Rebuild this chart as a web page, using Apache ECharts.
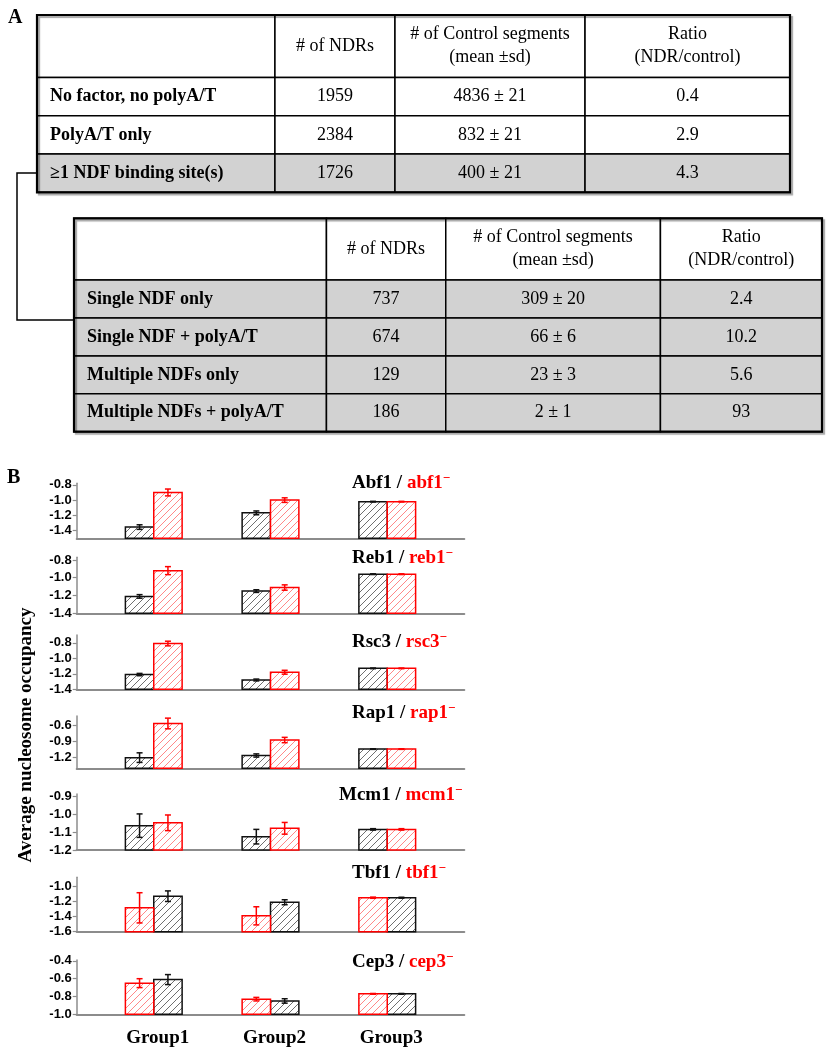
<!DOCTYPE html>
<html><head><meta charset="utf-8">
<script src="https://cdn.jsdelivr.net/npm/echarts@6/dist/echarts.min.js"></script>
<style>html,body{margin:0;padding:0;background:#fff}#c{width:830px;height:1050px}</style>
</head><body><div id="c"></div>
<script>
// ---------- Panel A data ----------
const headerLabels = ['', '# of NDRs', '# of Control segments\n(mean \u00B1sd)', 'Ratio\n(NDR/control)'];
const t1Labels = ['No factor, no polyA/T', 'PolyA/T only', '\u22651 NDF binding site(s)'];
const t1NDRs = [1959, 2384, 1726];
const t1CtrlMean = [4836, 832, 400];
const t1CtrlSd = [21, 21, 21];
const t1Ratio = ['0.4', '2.9', '4.3'];
const t1Shaded = [false, false, true];

const t2Labels = ['Single NDF only', 'Single NDF + polyA/T', 'Multiple NDFs only', 'Multiple NDFs + polyA/T'];
const t2NDRs = [737, 674, 129, 186];
const t2CtrlMean = [309, 66, 23, 2];
const t2CtrlSd = [20, 6, 3, 1];
const t2Ratio = ['2.4', '10.2', '5.6', '93'];
const t2Shaded = [true, true, true, true];

// ---------- Panel B data ----------
const groups = ['Group1', 'Group2', 'Group3'];
const factors = ['Abf1', 'Reb1', 'Rsc3', 'Rap1', 'Mcm1', 'Tbf1', 'Cep3'];
const mutants = ['abf1', 'reb1', 'rsc3', 'rap1', 'mcm1', 'tbf1', 'cep3'];
const wtMean = [
  [-1.353, -1.167, -1.02],
  [-1.21, -1.15, -0.96],
  [-1.21, -1.28, -1.13],
  [-1.20, -1.16, -1.04],
  [-1.063, -1.125, -1.084],
  [-1.13, -1.21, -1.15],
  [-0.61, -0.85, -0.77]
];
const wtErr = [
  [0.03, 0.025, 0.004],
  [0.02, 0.015, 0.004],
  [0.015, 0.012, 0.004],
  [0.09, 0.03, 0.005],
  [0.066, 0.041, 0.004],
  [0.07, 0.033, 0.006],
  [0.056, 0.025, 0.004]
];
const mutMean = [
  [-0.90, -1.00, -1.02],
  [-0.92, -1.11, -0.96],
  [-0.81, -1.18, -1.13],
  [-0.56, -0.87, -1.04],
  [-1.047, -1.078, -1.084],
  [-1.284, -1.39, -1.15],
  [-0.65, -0.83, -0.77]
];
const mutErr = [
  [0.045, 0.03, 0.004],
  [0.045, 0.03, 0.004],
  [0.03, 0.025, 0.004],
  [0.1, 0.05, 0.005],
  [0.044, 0.033, 0.004],
  [0.2, 0.12, 0.008],
  [0.05, 0.02, 0.004]
];
const mutantFirst = [false, false, false, false, false, true, true];
const yTickLabels = [
  [-1.4, -1.2, -1.0, -0.8],
  [-1.4, -1.2, -1.0, -0.8],
  [-1.4, -1.2, -1.0, -0.8],
  [-1.2, -0.9, -0.6],
  [-1.2, -1.1, -1.0, -0.9],
  [-1.6, -1.4, -1.2, -1.0],
  [-1.0, -0.8, -0.6, -0.4]
];

// ---------- layout (not data) ----------
const yRange = [[-1.5, -0.78], [-1.4, -0.77], [-1.4, -0.70], [-1.4, -0.42], [-1.2, -0.885], [-1.6, -0.88], [-1.0, -0.39]];
const panelTop = [483.3, 557.3, 635, 716, 794, 877.3, 960];
const panelBase = [538.3, 613.3, 689.3, 768.3, 850, 931.7, 1014.3];
const titleMid = [483.3, 558.3, 641.7, 713.3, 795, 873.3, 961.7];
const titleLeft = [352, 352, 352, 352, 339, 352, 352];
const PLOT_LEFT = 76.7, PLOT_RIGHT = 830 - 464.3;
const X_MIN = 0.34, X_MAX = 3.66, BAR_W = 0.243;
const RED = '#ff0000', BLACK = '#111111';
const SERIF = '"Liberation Serif", "Times New Roman", serif';
const SANS = '"Liberation Sans", Arial, sans-serif';

function hatch(color) {
  const s = 7, c = document.createElement('canvas');
  c.width = s; c.height = s;
  const g = c.getContext('2d');
  g.fillStyle = '#fff'; g.fillRect(0, 0, s, s);
  g.strokeStyle = color; g.lineWidth = 0.8;
  g.beginPath();
  g.moveTo(-1, s + 1); g.lineTo(s + 1, -1);
  g.moveTo(-1, 1); g.lineTo(1, -1);
  g.moveTo(s - 1, s + 1); g.lineTo(s + 1, s - 1);
  g.stroke();
  return c;
}
const patBlack = { image: hatch('#4a4a4a'), repeat: 'repeat' };
const patRed = { image: hatch('#ff6a6a'), repeat: 'repeat' };

const chart = echarts.init(document.getElementById('c'), null, { renderer: 'canvas' });

const grids = [], xAxes = [], yAxes = [], series = [], titles = [];

// ---------- Tables (panel A) ----------
const tables = [
  { left: 37, right: 830 - 790, top: 15, bottom: 1050 - 192.3,
    colEdges: [0, 0.316, 0.4754, 0.7278, 1], labels: t1Labels, ndr: t1NDRs, cm: t1CtrlMean, csd: t1CtrlSd, ratio: t1Ratio, shaded: t1Shaded },
  { left: 74, right: 830 - 822, top: 218.3, bottom: 1050 - 431.7,
    colEdges: [0, 0.3375, 0.497, 0.784, 1], labels: t2Labels, ndr: t2NDRs, cm: t2CtrlMean, csd: t2CtrlSd, ratio: t2Ratio, shaded: t2Shaded }
];
const HEADER_H = 1.63;
tables.forEach((t, ti) => {
  const n = t.labels.length;
  const rowEdges = [0, HEADER_H];
  for (let i = 1; i <= n; i++) rowEdges.push(HEADER_H + i);
  const gi = grids.length;
  grids.push({ left: t.left, right: t.right, top: t.top, bottom: t.bottom, containLabel: false });
  xAxes.push({ gridIndex: gi, type: 'value', min: 0, max: 1, show: false });
  yAxes.push({ gridIndex: gi, type: 'value', min: 0, max: rowEdges[rowEdges.length - 1], inverse: true, show: false });
  const cells = [];
  for (let r = 0; r <= n; r++) for (let c = 0; c < 4; c++) cells.push([c, r]);
  function cellText(c, r) {
    if (r === 0) return headerLabels[c];
    const i = r - 1;
    if (c === 0) return t.labels[i];
    if (c === 1) return String(t.ndr[i]);
    if (c === 2) return t.cm[i] + ' \u00B1 ' + t.csd[i];
    return t.ratio[i];
  }
  series.push({
    type: 'custom', xAxisIndex: gi, yAxisIndex: gi, silent: true, clip: false,
    data: cells,
    renderItem: function (params, api) {
      const c = api.value(0), r = api.value(1);
      const p0 = api.coord([t.colEdges[c], rowEdges[r]]);
      const p1 = api.coord([t.colEdges[c + 1], rowEdges[r + 1]]);
      const shaded = r > 0 && t.shaded[r - 1];
      const txt = cellText(c, r);
      const isLabel = c === 0 && r > 0;
      return {
        type: 'group', children: [
          { type: 'rect', shape: { x: p0[0], y: p0[1], width: p1[0] - p0[0], height: p1[1] - p0[1] },
            style: { fill: shaded ? '#d2d2d2' : '#ffffff', stroke: '#000', lineWidth: 1.5 } },
          { type: 'text', x: isLabel ? p0[0] + 13 : (p0[0] + p1[0]) / 2, y: (p0[1] + p1[1]) / 2,
            style: { text: txt, fill: '#000', font: (isLabel ? 'bold ' : '') + '18px ' + SERIF,
              textAlign: isLabel ? 'left' : 'center', textVerticalAlign: 'middle', lineHeight: 23 } }
        ]
      };
    }
  });
  series.push({
    type: 'custom', xAxisIndex: gi, yAxisIndex: gi, silent: true, clip: false, z: 5,
    data: [[0]],
    renderItem: function (params, api) {
      const p0 = api.coord([0, 0]);
      const p1 = api.coord([1, rowEdges[rowEdges.length - 1]]);
      return { type: 'rect', shape: { x: p0[0], y: p0[1], width: p1[0] - p0[0], height: p1[1] - p0[1] },
        style: { fill: null, stroke: '#000', lineWidth: 2.2, shadowColor: 'rgba(0,0,0,0.35)', shadowOffsetX: 2, shadowOffsetY: 2, shadowBlur: 1 } };
    }
  });
});

// ---------- Bar panels (panel B) ----------
factors.forEach((f, pi) => {
  const gi = grids.length;
  const yMin = yRange[pi][0];
  grids.push({ left: PLOT_LEFT, right: PLOT_RIGHT, top: panelTop[pi], bottom: 1050 - panelBase[pi], containLabel: false });
  const last = pi === factors.length - 1;
  xAxes.push({
    gridIndex: gi, type: 'value', min: X_MIN, max: X_MAX,
    axisLine: { show: true, onZero: false, lineStyle: { color: '#8c8c8c', width: 2 } },
    axisTick: { show: false }, splitLine: { show: false },
    axisLabel: last ? { show: true, customValues: [1, 2, 3], formatter: v => groups[Math.round(v) - 1], margin: 14,
      color: '#000', fontFamily: SERIF, fontWeight: 'bold', fontSize: 19, padding: [0, 0, 0, 8] } : { show: false }
  });
  yAxes.push({
    gridIndex: gi, type: 'value', min: yRange[pi][0], max: yRange[pi][1],
    axisLine: { show: true, onZero: false, lineStyle: { color: '#8c8c8c', width: 1.5 } },
    axisTick: { show: true, customValues: yTickLabels[pi], length: 4, lineStyle: { color: '#8c8c8c', width: 1.2 } },
    axisLabel: { show: true, customValues: yTickLabels[pi], formatter: v => v.toFixed(1), margin: 5,
      color: '#000', fontFamily: SANS, fontWeight: 'bold', fontSize: 13 },
    splitLine: { show: false }
  });
  const items = [];
  for (let g = 0; g < 3; g++) {
    const mSide = mutantFirst[pi] ? 0 : 1;
    items.push([g + 1, wtMean[pi][g], wtErr[pi][g], 1 - mSide, 0]);
    items.push([g + 1, mutMean[pi][g], mutErr[pi][g], mSide, 1]);
  }
  series.push({
    type: 'custom', xAxisIndex: gi, yAxisIndex: gi, silent: true, clip: false,
    data: items,
    renderItem: function (params, api) {
      const x = api.value(0), v = api.value(1), e = api.value(2), side = api.value(3), kind = api.value(4);
      const x0 = side === 0 ? x - BAR_W : x, x1 = x0 + BAR_W;
      const p0 = api.coord([x0, yMin]);
      const p1 = api.coord([x1, v]);
      const col = kind ? RED : BLACK;
      const cx = api.coord([(x0 + x1) / 2, v])[0];
      const yt = api.coord([x, v + e])[1], yb = api.coord([x, v - e])[1];
      const cap = 3;
      return {
        type: 'group', children: [
          { type: 'rect', shape: { x: p0[0], y: p1[1], width: p1[0] - p0[0], height: p0[1] - p1[1] },
            style: { fill: kind ? patRed : patBlack, stroke: col, lineWidth: 1.5 } },
          { type: 'line', shape: { x1: cx, y1: yt, x2: cx, y2: yb }, style: { stroke: col, lineWidth: 1.5 } },
          { type: 'line', shape: { x1: cx - cap, y1: yt, x2: cx + cap, y2: yt }, style: { stroke: col, lineWidth: 1.5 } },
          { type: 'line', shape: { x1: cx - cap, y1: yb, x2: cx + cap, y2: yb }, style: { stroke: col, lineWidth: 1.5 } }
        ]
      };
    }
  });
  titles.push({
    text: '{a|' + f + ' / }{b|' + mutants[pi] + '}{s|\u2212}',
    left: titleLeft[pi], top: titleMid[pi] - 11, padding: 0,
    textStyle: { rich: {
      a: { fontFamily: SERIF, fontWeight: 'bold', fontSize: 19, color: '#000', lineHeight: 22 },
      b: { fontFamily: SERIF, fontWeight: 'bold', fontSize: 19, color: RED, lineHeight: 22 },
      s: { fontFamily: SERIF, fontWeight: 'bold', fontSize: 13, color: RED, lineHeight: 13, verticalAlign: 'top' }
    } }
  });
});

titles.push({ text: 'A', left: 8, top: 8, padding: 0, textStyle: { fontFamily: SERIF, fontWeight: 'bold', fontSize: 20, color: '#000' } });
titles.push({ text: 'B', left: 7, top: 468, padding: 0, textStyle: { fontFamily: SERIF, fontWeight: 'bold', fontSize: 20, color: '#000' } });

chart.setOption({
  backgroundColor: '#fff',
  animation: false,
  title: titles,
  grid: grids,
  xAxis: xAxes,
  yAxis: yAxes,
  series: series,
  graphic: [
    { type: 'polyline', silent: true, shape: { points: [[37, 173], [17, 173], [17, 320], [74, 320]] },
      style: { stroke: '#000', lineWidth: 1.5, fill: null } },
    { type: 'text', silent: true, x: 26, y: 735, rotation: Math.PI / 2,
      style: { text: 'Average nucleosome occupancy', font: 'bold 19px ' + SERIF, fill: '#000',
        textAlign: 'center', textVerticalAlign: 'middle' } }
  ]
});
</script>
</body></html>
